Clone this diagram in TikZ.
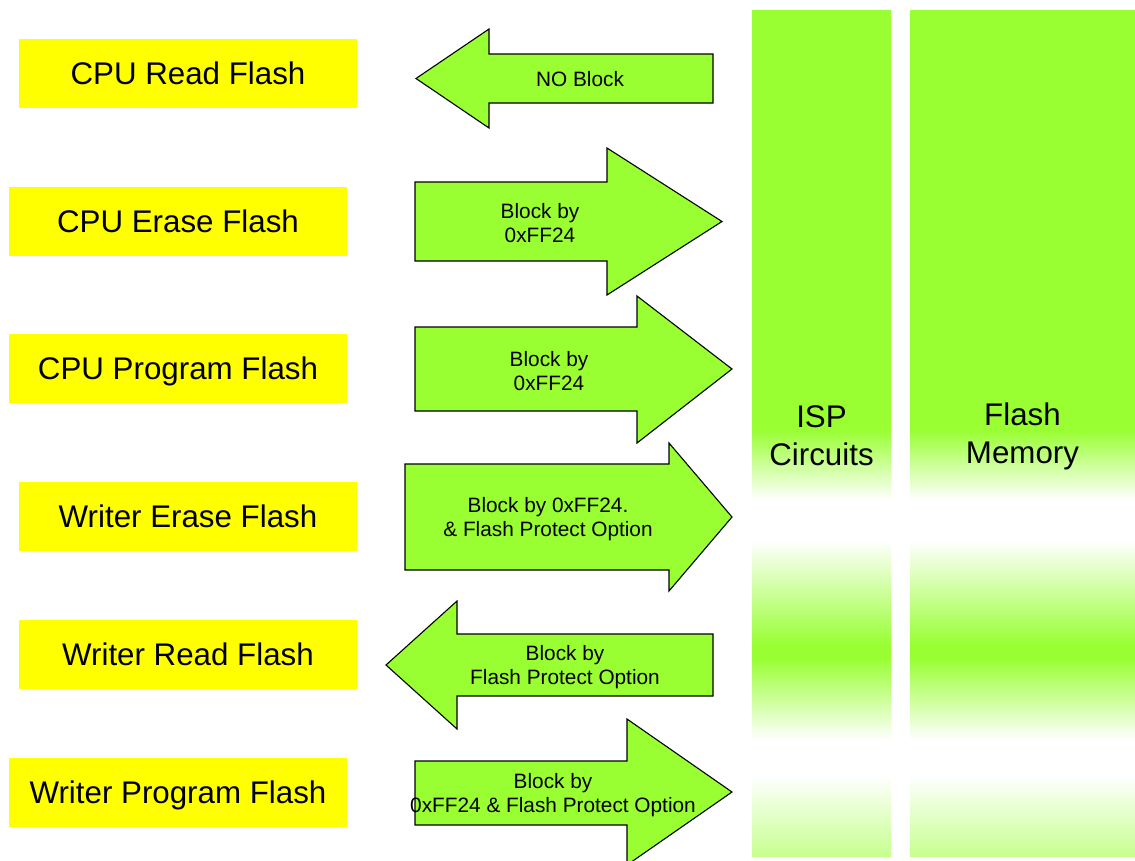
\documentclass[tikz,border=0pt]{standalone}
\usepackage{fontspec}
\setmainfont{Liberation Sans}
\definecolor{leaf}{RGB}{153,255,51}
\definecolor{lemon}{RGB}{255,255,0}
\colorlet{leafpale}{leaf!55!white}
% vertical fade of the two memory columns (inner 25bp..75bp spans the column)
\pgfdeclareverticalshading{columnfade}{100bp}{%
  color(0bp)=(leafpale); color(25bp)=(leafpale);
  color(29.79bp)=(white); color(31.86bp)=(white);
  color(36.70bp)=(leaf); color(37.47bp)=(leaf);
  color(43.68bp)=(white); color(46.04bp)=(white);
  color(50.18bp)=(leaf); color(100bp)=(leaf)}
\tikzset{
  taskbox/.style={fill=lemon, inner sep=0pt, minimum width=338pt, minimum height=69pt,
    text height=22.5pt, text depth=0pt,
    font=\fontsize{31.3}{36}\selectfont},
  blockarrow/.style={fill=leaf, draw=black, line width=1.1pt, line join=miter},
  arrowtext/.style={align=center, inner sep=0pt, font=\fontsize{20.8}{24}\selectfont},
  column/.style={shading=columnfade},
  columntext/.style={align=center, inner sep=0pt, font=\fontsize{31.3}{38}\selectfont}
}
\begin{document}
\begin{tikzpicture}[x=1pt, y=-1pt]
\path[use as bounding box] (0,0) rectangle (1135,860);
\clip (0,0) rectangle (1135,860);

% operations requested
\node[taskbox] (cpuread)   at (188,73.5)  {CPU Read Flash};
\node[taskbox] (cpuerase)  at (178,221.5) {CPU Erase Flash};
\node[taskbox] (cpuprog)   at (178,368.5) {CPU Program Flash};
\node[taskbox] (wrterase)  at (188,516.5) {Writer Erase Flash};
\node[taskbox] (wrtread)   at (188,654.5) {Writer Read Flash};
\node[taskbox] (wrtprog)   at (178,792.5) {Writer Program Flash};

% protection arrows
\draw[blockarrow] (713,54) -- (489,54) -- (489,29) -- (416,78.5) -- (489,128) -- (489,103) -- (713,103) -- cycle;
\node[arrowtext] (noblock) at (580,79.5) {NO Block};

\draw[blockarrow] (415,182) -- (607,182) -- (607,148) -- (722,221.5) -- (607,295) -- (607,261) -- (415,261) -- cycle;
\node[arrowtext] (eraseblk) at (540,223) {Block by\\0xFF24};

\draw[blockarrow] (415,327) -- (637,327) -- (637,296) -- (732,369) -- (637,443) -- (637,411) -- (415,411) -- cycle;
\node[arrowtext] (progblk) at (549,371) {Block by\\0xFF24};

\draw[blockarrow] (405,464) -- (669,464) -- (669,443) -- (732,517) -- (669,591) -- (669,570) -- (405,570) -- cycle;
\node[arrowtext] (wrteraseblk) at (548,519) {Block by 0xFF24.\\\& Flash Protect Option};

\draw[blockarrow] (713,634) -- (457,634) -- (457,601) -- (386,665) -- (457,729) -- (457,696) -- (713,696) -- cycle;
\node[arrowtext] (wrtreadblk) at (565,667) {Block by\\Flash Protect Option};

\draw[blockarrow] (415,761) -- (627,761) -- (627,719) -- (732,792) -- (627,865) -- (627,825) -- (415,825) -- cycle;
\node[arrowtext] (wrtprogblk) at (553,795) {Block by\\0xFF24 \& Flash Protect Option};

% target columns
\shade[column] (752,10) rectangle (891,856);
\shade[column] (910,10) rectangle (1135,856);
\node[columntext] (isp)   at (821.5,436) {ISP\\Circuits};
\node[columntext] (flash) at (1022.5,436) {Flash\\Memory};
\end{tikzpicture}
\end{document}
